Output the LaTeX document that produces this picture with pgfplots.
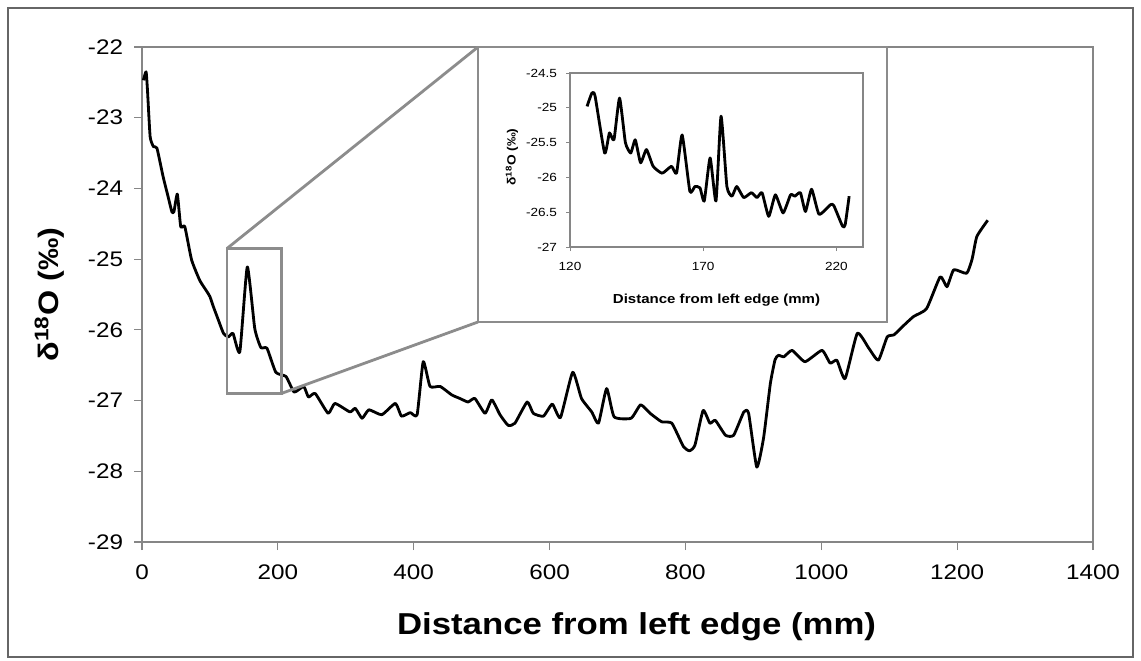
\documentclass[border=0pt]{standalone}
\usepackage{fontspec}
\setmainfont{Liberation Sans}[FakeStretch=1.15]
\usepackage{pgfplots}
\pgfplotsset{compat=1.18}

\definecolor{axgray}{RGB}{134,134,134}
\definecolor{boxgray}{RGB}{140,140,140}

% main profile, d18O against distance
\pgfplotstableread{
x y
2 -22.47
6 -22.35
8 -22.60
12 -23.27
17 -23.41
22 -23.43
31 -23.83
38 -24.10
44 -24.33
47 -24.33
52 -24.08
57 -24.54
63 -24.54
73 -25.01
85 -25.30
95 -25.45
100 -25.53
105 -25.67
112 -25.85
120 -26.05
127 -26.10
134 -26.05
144 -26.31
155 -25.11
166 -25.98
175 -26.25
184 -26.26
197 -26.60
212 -26.66
224 -26.88
238 -26.80
245 -26.95
255 -26.90
274 -27.18
284 -27.04
306 -27.16
314 -27.11
324 -27.25
334 -27.13
353 -27.20
373 -27.04
382 -27.22
395 -27.17
405 -27.20
414 -26.45
424 -26.80
439 -26.80
456 -26.92
468 -26.97
480 -27.02
490 -26.97
505 -27.18
515 -26.99
527 -27.20
539 -27.35
549 -27.32
567 -27.02
576 -27.18
591 -27.22
604 -27.05
616 -27.24
634 -26.60
647 -26.97
662 -27.16
672 -27.32
684 -26.83
695 -27.23
720 -27.25
734 -27.06
748 -27.18
765 -27.30
780 -27.32
797 -27.65
806 -27.71
814 -27.63
826 -27.14
836 -27.32
844 -27.28
859 -27.49
871 -27.49
886 -27.16
893 -27.18
905 -27.94
915 -27.53
925 -26.76
932 -26.42
937 -26.36
945 -26.38
957 -26.29
976 -26.45
1001 -26.29
1013 -26.47
1023 -26.43
1035 -26.69
1053 -26.05
1070 -26.26
1084 -26.43
1097 -26.10
1107 -26.07
1120 -25.95
1136 -25.81
1155 -25.70
1175 -25.25
1185 -25.39
1195 -25.15
1214 -25.20
1222 -25.00
1229 -24.68
1245 -24.45
}\mainprofile

% detail 120-230 mm
\pgfplotstableread{
x y
126.4 -24.98
128.2 -24.79
129.4 -24.83
133.0 -25.65
134.8 -25.36
136.5 -25.46
138.6 -24.86
140.8 -25.50
142.8 -25.65
144.5 -25.46
146.5 -25.79
148.7 -25.60
151.2 -25.84
154.6 -25.94
158.1 -25.84
160.0 -25.94
162.1 -25.39
165.0 -26.20
166.9 -26.13
168.8 -26.15
170.4 -26.34
172.6 -25.72
174.8 -26.34
176.7 -25.12
178.9 -26.13
180.8 -26.27
182.6 -26.13
185.2 -26.29
188.1 -26.22
190.2 -26.29
192.1 -26.22
194.6 -26.56
197.1 -26.25
200.0 -26.51
202.8 -26.25
204.4 -26.27
206.5 -26.22
208.4 -26.49
210.7 -26.17
213.5 -26.53
217.9 -26.39
219.1 -26.41
222.3 -26.70
223.3 -26.68
224.8 -26.27
}\detailprofile

\begin{document}
\begin{tikzpicture}
\useasboundingbox (0,0) rectangle (28.525cm,16.5cm);
\draw[line width=1.2pt, black!60] (0.2cm,0.075cm) rectangle (28.325cm,16.3cm);

\begin{axis}[
    at={(3.55cm,2.95cm)}, anchor=south west,
    scale only axis,
    width=23.775cm, height=12.375cm,
    xmin=0, xmax=1400, ymin=-29, ymax=-22,
    xtick={0,200,...,1400},
    ytick={-29,-28,...,-22},
    xtick pos=bottom, ytick pos=left,
    tick align=outside,
    major tick length=0.2cm,
    axis line style={axgray, line width=1pt},
    tick style={axgray, line width=0.8pt},
    /pgf/number format/assume math mode=true,
    /pgf/number format/1000 sep={},
    tick label style={font=\fontsize{15}{18}\selectfont},
    xticklabel style={yshift=-0.25cm},
    yticklabel style={xshift=-0.15cm},
    xlabel={\textbf{Distance from left edge (mm)}},
    ylabel={\textbf{δ\textsuperscript{18}O (‰)}},
    xlabel style={font=\fontsize{21.5}{25}\selectfont, at={(axis description cs:0.52,-0.172)}, anchor=center},
    ylabel style={font=\fontsize{20}{24}\selectfont, at={(axis description cs:-0.097,0.5)}, anchor=center},
    clip=false,
]
\addplot[black, line width=2pt, line join=round, smooth, tension=0.3] table[x=x, y=y] {\mainprofile};
\draw[boxgray, line width=2pt] (axis cs:125,-24.85) rectangle (axis cs:205,-26.9);
\coordinate (zoomTL) at (axis cs:125,-24.85);
\coordinate (zoomBR) at (axis cs:205,-26.9);
\end{axis}

\draw[boxgray, line width=2pt] (zoomTL) -- (11.95cm,15.325cm);
\draw[boxgray, line width=2pt] (zoomBR) -- (11.95cm,8.45cm);
\draw[boxgray, line width=2pt, fill=white] (11.95cm,8.45cm) rectangle (22.175cm,15.325cm);

\begin{axis}[
    at={(14.25cm,10.325cm)}, anchor=south west,
    scale only axis,
    width=7.325cm, height=4.35cm,
    xmin=120, xmax=230, ymin=-27, ymax=-24.5,
    xtick={120,170,220},
    ytick={-27,-26.5,-26,-25.5,-25,-24.5},
    xtick pos=bottom, ytick pos=left,
    tick align=outside,
    major tick length=0.1cm,
    axis line style={axgray, line width=0.8pt},
    tick style={axgray, line width=0.6pt},
    /pgf/number format/assume math mode=true,
    tick label style={font=\fontsize{8.4}{10}\selectfont},
    xticklabel style={yshift=-0.15cm},
    yticklabel style={xshift=-0.1cm},
    xlabel={\textbf{Distance from left edge (mm)}},
    ylabel={\textbf{δ\textsuperscript{18}O (‰)}},
    xlabel style={font=\fontsize{9.3}{11}\selectfont, at={(axis description cs:0.5,-0.305)}, anchor=center},
    ylabel style={font=\fontsize{8.5}{10}\selectfont, at={(axis description cs:-0.198,0.517)}, anchor=center},
]
\addplot[black, line width=2pt, line join=round, smooth, tension=0.3] table[x=x, y=y] {\detailprofile};
\end{axis}
\end{tikzpicture}
\end{document}
